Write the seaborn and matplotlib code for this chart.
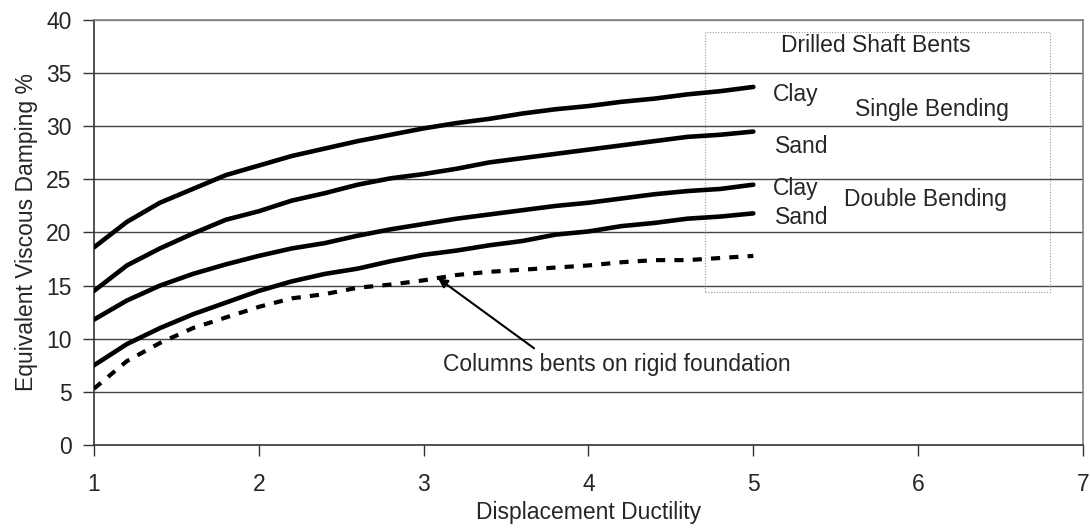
import numpy as np
import pandas as pd
import seaborn as sns
import matplotlib.pyplot as plt
from matplotlib.patches import Rectangle

# displacement ductility values
ductility = [1.0, 1.2, 1.4, 1.6, 1.8, 2.0, 2.2, 2.4, 2.6, 2.8, 3.0,
             3.2, 3.4, 3.6, 3.8, 4.0, 4.2, 4.4, 4.6, 4.8, 5.0]

single_clay = [18.6, 21.0, 22.8, 24.1, 25.4, 26.3, 27.2, 27.9, 28.6, 29.2, 29.8,
               30.3, 30.7, 31.2, 31.6, 31.9, 32.3, 32.6, 33.0, 33.3, 33.7]
single_sand = [14.5, 16.9, 18.5, 19.9, 21.2, 22.0, 23.0, 23.7, 24.5, 25.1, 25.5,
               26.0, 26.6, 27.0, 27.4, 27.8, 28.2, 28.6, 29.0, 29.2, 29.5]
double_clay = [11.8, 13.6, 15.0, 16.1, 17.0, 17.8, 18.5, 19.0, 19.7, 20.3, 20.8,
               21.3, 21.7, 22.1, 22.5, 22.8, 23.2, 23.6, 23.9, 24.1, 24.5]
double_sand = [7.5, 9.5, 11.0, 12.3, 13.4, 14.5, 15.4, 16.1, 16.6, 17.3, 17.9,
               18.3, 18.8, 19.2, 19.8, 20.1, 20.6, 20.9, 21.3, 21.5, 21.8]
rigid = [5.3, 7.9, 9.6, 11.0, 12.0, 13.0, 13.8, 14.2, 14.8, 15.1, 15.5,
         16.0, 16.3, 16.5, 16.7, 16.9, 17.2, 17.4, 17.4, 17.6, 17.8]

x_ticks = [1, 2, 3, 4, 5, 6, 7]
y_ticks = [0, 5, 10, 15, 20, 25, 30, 35, 40]

sns.set_style('white')
plt.rcParams['font.family'] = ['Liberation Sans', 'DejaVu Sans']

fig = plt.figure(figsize=(10.9, 5.29), dpi=100)
ax = fig.add_axes([0.0862, 0.1588, 0.9074, 0.8034])

# horizontal gridlines
for yv in y_ticks[1:]:
    ax.axhline(yv, color='#444444' if yv < 40 else '#808080', lw=1.0, zorder=1)

for series in [single_clay, single_sand, double_clay, double_sand]:
    sns.lineplot(x=ductility, y=series, ax=ax, color='black', lw=3.3,
                 solid_capstyle='round', zorder=3)

sns.lineplot(x=ductility, y=rigid, ax=ax, color='black', lw=3.0, zorder=3)
ax.lines[-1].set_dashes((2.2, 2.2))
ax.lines[-1].set_dash_capstyle('butt')

# dotted box around the drilled shaft labels
ax.add_patch(Rectangle((4.707, 14.4), 6.8 - 4.707, 38.9 - 14.4, fill=False,
                       ls=(0, (1, 1.5)), lw=0.8, ec='#999999', zorder=2))

fs = 16.5
ax.text(5.745, 37.6, 'Drilled Shaft Bents', ha='center', va='center', fontsize=fs)
ax.text(5.12, 33.0, 'Clay', ha='left', va='center', fontsize=fs)
ax.text(5.615, 31.6, 'Single Bending', ha='left', va='center', fontsize=fs)
ax.text(5.13, 28.1, 'Sand', ha='left', va='center', fontsize=fs)
ax.text(5.12, 24.15, 'Clay', ha='left', va='center', fontsize=fs)
ax.text(5.55, 23.1, 'Double Bending', ha='left', va='center', fontsize=fs)
ax.text(5.13, 21.4, 'Sand', ha='left', va='center', fontsize=fs)

ax.annotate('', xy=(3.087, 15.7), xytext=(3.67, 9.1),
            arrowprops=dict(arrowstyle='-|>', color='black', lw=1.5,
                            mutation_scale=14, shrinkA=0, shrinkB=0))
ax.text(3.115, 7.55, 'Columns bents on rigid foundation', ha='left', va='center',
        fontsize=fs)

ax.set_xlim(1, 7)
ax.set_ylim(0, 40)
ax.set_xticks(x_ticks)
ax.set_yticks(y_ticks)
ax.tick_params(axis='x', direction='out', length=8, width=1, color='#333333',
               pad=12, labelsize=fs, bottom=True)
ax.tick_params(axis='y', direction='out', length=8, width=1, color='#333333',
               pad=8, labelsize=fs, left=True)
ax.set_xlabel('Displacement Ductility', fontsize=fs, labelpad=4)
ax.set_ylabel('Equivalent Viscous Damping %', fontsize=fs, labelpad=6)

for side in ['left', 'bottom']:
    ax.spines[side].set_color('#333333')
    ax.spines[side].set_linewidth(1.2)
for side in ['top', 'right']:
    ax.spines[side].set_color('#808080')
    ax.spines[side].set_linewidth(1.2)

fig.savefig('out.png', dpi=100)
